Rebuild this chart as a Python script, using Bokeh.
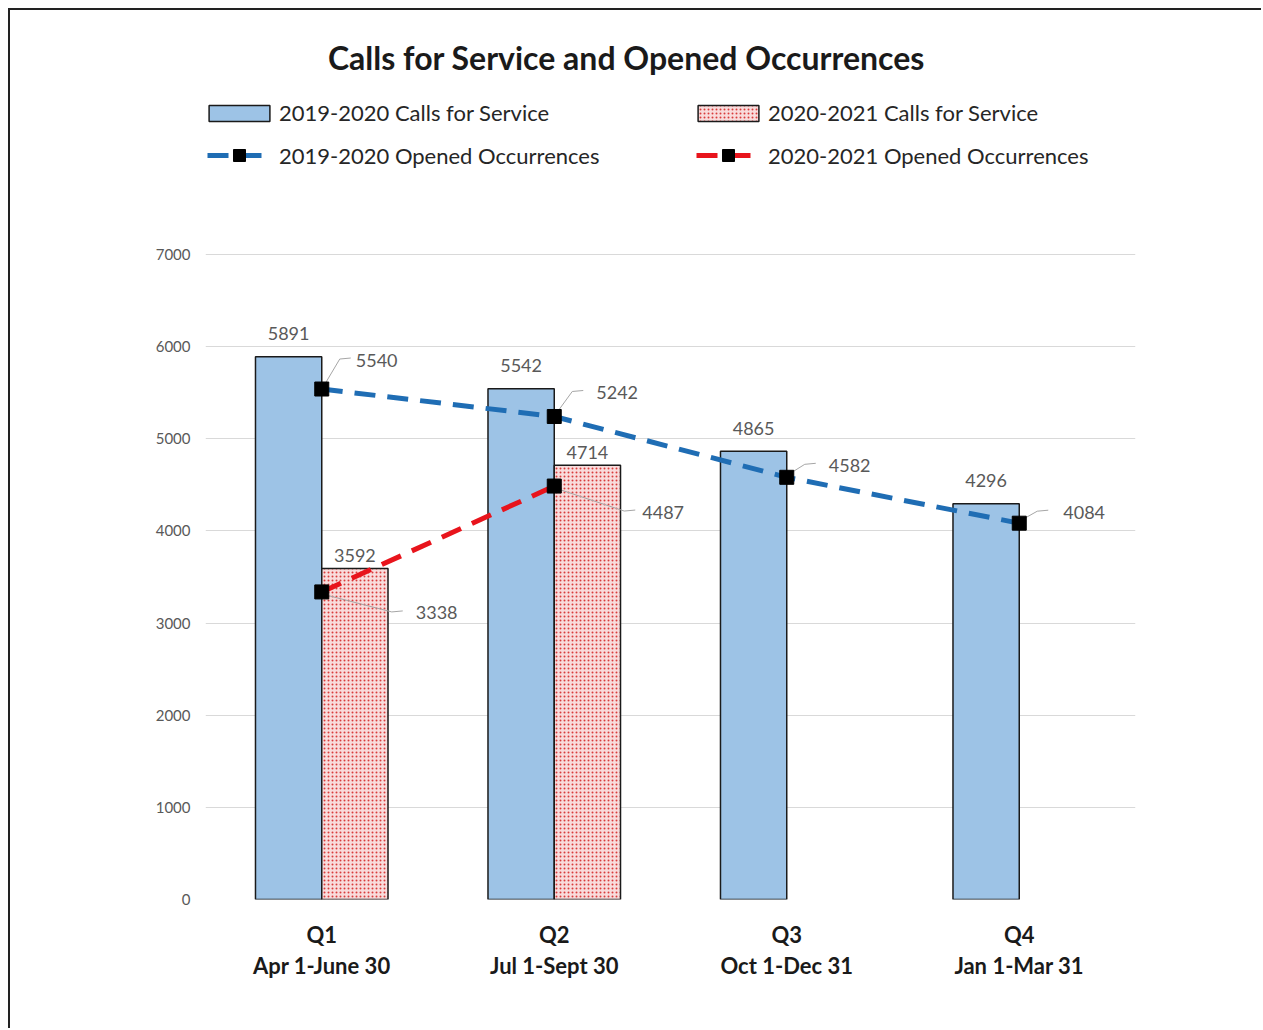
from bokeh.plotting import figure
from bokeh.models import (FactorRange, Range1d, ColumnDataSource, Legend, LegendItem,
                          Label, CategoricalAxis, FixedTicker, CustomJSTickFormatter)
from bokeh.transform import dodge
from bokeh.core.properties import value
from bokeh.embed import file_html
from bokeh.resources import INLINE

# ---------------- data ----------------
quarters = ["Q1", "Q2", "Q3", "Q4"]
periods = ["Apr 1-June 30", "Jul 1-Sept 30", "Oct 1-Dec 31", "Jan 1-Mar 31"]
calls_1920 = [5891, 5542, 4865, 4296]
quarters_2021 = ["Q1", "Q2"]
calls_2021 = [3592, 4714]
occ_1920 = [5540, 5242, 4582, 4084]
occ_2021 = [3338, 4487]
y_ticks = [0, 1000, 2000, 3000, 4000, 5000, 6000, 7000]
title_text = "Calls for Service and Opened Occurrences"
legend_labels = ["2019-2020 Calls for Service", "2020-2021 Calls for Service",
                 "2019-2020 Opened Occurrences", "2020-2021 Opened Occurrences"]

# ---------------- style ----------------
FONT = "Lato"
BLUE_FILL = "#9dc3e6"
BLUE_LINE = "#1f6db4"
RED_LINE = "#e8141c"
GREY_TXT = "#595959"
W, H = 1253, 1020
ML, MR, MT, MB = 195, 128, 0, 131
FW, FH = W - ML - MR, H - MT - MB
AXIS_PX = 645                  # pixel height of 0..7000 part of the frame
Y_MAX = 7000
UPX = Y_MAX / AXIS_PX          # data units per pixel (y)
Y_TOP = UPX * FH               # frame extends above 7000 to hold title/legend
BAR_W = 0.285
OFF = BAR_W / 2
CX = len(quarters) / FW        # category units per pixel (x)

# label placement (pixels relative to each marker)
occ1_lbl_dx = [34, 42, 42, 44]
occ1_lbl_dy = [-29, -24, -12, -11]
occ2_lbl_dx = [94, 88]
occ2_lbl_dy = [21, 26]

p = figure(x_range=FactorRange(*quarters), y_range=Range1d(0, Y_TOP),
           width=W, height=H, output_backend="svg", toolbar_location=None,
           min_border_left=ML, min_border_right=MR, min_border_top=MT, min_border_bottom=MB)
p.styles = {"border-left": "2px solid #222", "border-top": "2px solid #222",
            "margin": "8px 0 0 8px"}
p.outline_line_color = None
p.background_fill_color = "white"
p.border_fill_color = "white"
p.xgrid.grid_line_color = None
p.ygrid.grid_line_color = "#d9d9d9"
p.ygrid.grid_line_width = 1.2
p.ygrid.ticker = FixedTicker(ticks=y_ticks)

p.yaxis.ticker = FixedTicker(ticks=y_ticks)
p.yaxis.axis_line_color = None
p.yaxis.major_tick_line_color = None
p.yaxis.minor_tick_line_color = None
p.yaxis.major_tick_out = 0
p.yaxis.major_label_standoff = 15
p.yaxis.major_label_text_font = FONT
p.yaxis.major_label_text_font_size = "15px"
p.yaxis.major_label_text_color = GREY_TXT

def style_xaxis(ax, standoff):
    ax.axis_line_color = None
    ax.major_tick_line_color = None
    ax.major_tick_out = 0
    ax.major_label_standoff = standoff
    ax.major_label_text_font = FONT
    ax.major_label_text_font_size = "22px"
    ax.major_label_text_font_style = "bold"
    ax.major_label_text_color = "#1a1a1a"

style_xaxis(p.xaxis[0], 21)
xa2 = CategoricalAxis(formatter=CustomJSTickFormatter(
    args=dict(m=dict(zip(quarters, periods))), code="return m[tick] || tick;"))
style_xaxis(xa2, 1)
p.add_layout(xa2, "below")

# ---------------- sources ----------------
def make_src(qs, calls, occ, ldx, ldy):
    d = dict(q=qs, calls=calls, lbl=[str(v) for v in calls],
             occ=occ, occ_lbl=[str(v) for v in occ], ldx=ldx, ldy=ldy)
    d["ly0"] = [v - (3 if dy > 0 else -3) * UPX for v, dy in zip(occ, ldy)]
    d["ly1"] = [v - (dy - 1) * UPX for v, dy in zip(occ, ldy)]
    d["ly2"] = [v - (dy - 2) * UPX for v, dy in zip(occ, ldy)]
    return ColumnDataSource(d)

src1 = make_src(quarters, calls_1920, occ_1920, occ1_lbl_dx, occ1_lbl_dy)
src2 = make_src(quarters_2021, calls_2021, occ_2021, occ2_lbl_dx, occ2_lbl_dy)

# bars
b1 = p.vbar(x=dodge("q", -OFF, range=p.x_range), top="calls", width=BAR_W, source=src1,
            fill_color=BLUE_FILL, line_color="#1a1a1a", line_width=1.5)
b2 = p.vbar(x=dodge("q", OFF, range=p.x_range), top="calls", width=BAR_W, source=src2,
            fill_color="#f9dcdc", line_color="#1a1a1a", line_width=1.5,
            hatch_pattern="dot", hatch_color="#d83c3c", hatch_scale=4, hatch_weight=1.8)

# bar value labels
p.text(x=dodge("q", -OFF, range=p.x_range), y="calls", text="lbl", source=src1,
       text_align="center", text_baseline="middle", y_offset=-23,
       text_font=value(FONT), text_font_size="18px", text_color=GREY_TXT)
p.text(x=dodge("q", OFF, range=p.x_range), y="calls", text="lbl", source=src2,
       text_align="center", text_baseline="middle", y_offset=-13,
       text_font=value(FONT), text_font_size="18px", text_color=GREY_TXT)

# lines
l1 = p.line(x="q", y="occ", source=src1, line_color=BLUE_LINE, line_width=5, line_dash="21 12")
l2 = p.line(x="q", y="occ", source=src2, line_color=RED_LINE, line_width=5, line_dash="21 12")

# leader lines
def leaders(src, sx, ex, endx):
    p.segment(x0=dodge("q", sx * CX, range=p.x_range), y0="ly0",
              x1=dodge("q", ex * CX, range=p.x_range), y1="ly1",
              source=src, line_color="#a6a6a6", line_width=1)
    p.segment(x0=dodge("q", ex * CX, range=p.x_range), y0="ly1",
              x1=dodge("q", endx * CX, range=p.x_range), y1="ly2",
              source=src, line_color="#a6a6a6", line_width=1)

leaders(src1, 2, 18, 29)
leaders(src2, 4, 70, 81)

m1 = p.scatter(x="q", y="occ", source=src1, marker="square", size=14,
               fill_color="black", line_color="black")
m2 = p.scatter(x="q", y="occ", source=src2, marker="square", size=14,
               fill_color="black", line_color="black")

for s in (src1, src2):
    p.text(x="q", y="occ", text="occ_lbl", source=s, x_offset="ldx", y_offset="ldy",
           text_align="left", text_baseline="middle",
           text_font=value(FONT), text_font_size="18px", text_color=GREY_TXT)

# title (screen units relative to the frame's bottom-left)
p.add_layout(Label(x=421, y=842, x_units="screen", y_units="screen",
                   text=title_text, text_align="center", text_baseline="middle",
                   text_font=FONT, text_font_size="32px", text_font_style="bold",
                   text_color="#1a1a1a"))

# legends: bars row and lines row
common = dict(orientation="horizontal", ncols=2, padding=0, margin=0, spacing=0,
              border_line_alpha=0, background_fill_alpha=0,
              label_text_font=FONT, label_text_font_size="22px", label_text_color="#262626")
leg_bars = Legend(items=[
    LegendItem(label=legend_labels[0], renderers=[b1]),
    LegendItem(label=legend_labels[1], renderers=[b2]),
], location=(-4, 773), glyph_width=76, glyph_height=20, label_standoff=2,
    label_width=411, **common)
leg_lines = Legend(items=[
    LegendItem(label=legend_labels[2], renderers=[l1, m1]),
    LegendItem(label=legend_labels[3], renderers=[l2, m2]),
], location=(2, 729), glyph_width=64, glyph_height=30, label_standoff=8,
    label_width=417, **common)
p.add_layout(leg_bars, "center")
p.add_layout(leg_lines, "center")

open("out.html", "w").write(file_html(p, INLINE))
